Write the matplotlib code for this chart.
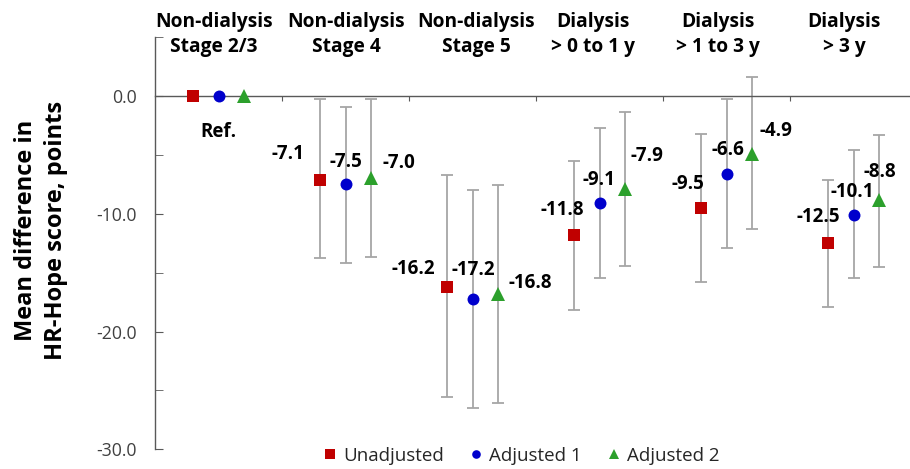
import matplotlib
matplotlib.use("Agg")
import matplotlib.pyplot as plt
from matplotlib.ticker import FixedLocator
import numpy as np

plt.rcParams['font.family'] = ['Open Sans', 'DejaVu Sans']

categories = ["Non-dialysis\nStage 2/3", "Non-dialysis\nStage 4", "Non-dialysis\nStage 5",
              "Dialysis\n> 0 to 1 y", "Dialysis\n> 1 to 3 y", "Dialysis\n> 3 y"]
series = ["Unadjusted", "Adjusted 1", "Adjusted 2"]

unadj = [0.0, -7.1, -16.2, -11.8, -9.5, -12.5]
unadj_lo = [0.0, -13.8, -25.6, -18.2, -15.8, -17.9]
unadj_hi = [0.0, -0.3, -6.7, -5.5, -3.2, -7.1]

adj1 = [0.0, -7.5, -17.2, -9.1, -6.6, -10.1]
adj1_lo = [0.0, -14.2, -26.5, -15.5, -12.9, -15.5]
adj1_hi = [0.0, -0.9, -8.0, -2.7, -0.3, -4.6]

adj2 = [0.0, -7.0, -16.8, -7.9, -4.9, -8.8]
adj2_lo = [0.0, -13.7, -26.1, -14.4, -11.3, -14.5]
adj2_hi = [0.0, -0.3, -7.6, -1.4, 1.6, -3.3]

# styling
colors = ["#C00000", "#0000CC", "#2CA02C"]
markers = ["s", "o", "^"]
msizes = [9.2, 8.6, 9.6]
x_offsets = [-0.2, 0.0, 0.2]
# label offsets in pixels (dx, dy up) per series per group
lab_off = [
    [None, (-32, 26), (-34, 18), (-12, 25), (-13, 24), (-10, 26)],
    [None, (0, 22), (1, 29), (-1, 23), (1, 24), (-1, 23)],
    [None, (28, 15), (32, 11), (22, 33), (24, 23), (1, 28)],
]
cat_dx = [-0.035, 0.008, 0.03, -0.05, -0.067, -0.075]

W, H = 910, 469
fig = plt.figure(figsize=(W / 100, H / 100), dpi=100)
ax_left = 155 / W
ax_bottom = (H - 449.3) / H
ax_top = (H - 37) / H
ax = fig.add_axes([ax_left, ax_bottom, 1 - ax_left, ax_top - ax_bottom])
ax.set_xlim(0, (W - 155) / 127)
ax.set_ylim(-30, 5)

data = [(unadj, unadj_lo, unadj_hi), (adj1, adj1_lo, adj1_hi), (adj2, adj2_lo, adj2_hi)]
xc = np.arange(len(categories)) + 0.5
handles = []
for si, (vals, lo, hi) in enumerate(data):
    vals = np.array(vals); lo = np.array(lo); hi = np.array(hi)
    xs = xc + x_offsets[si]
    ax.errorbar(xs[1:], vals[1:], yerr=[vals[1:] - lo[1:], hi[1:] - vals[1:]],
                fmt='none', ecolor="#A6A6A6", elinewidth=1.3, capsize=4, capthick=1.3, zorder=2)
    ax.plot(xs, vals, linestyle='none', marker=markers[si], markersize=msizes[si],
            color=colors[si], markeredgewidth=0, zorder=3)
    h, = ax.plot([], [], linestyle='none', marker=markers[si], markersize=msizes[si] * 0.72,
                 color=colors[si], markeredgewidth=0, label=series[si])
    handles.append(h)
    for gi in range(1, len(categories)):
        dx, dy = lab_off[si][gi]
        ax.annotate(f"{vals[gi]:.1f}", (xs[gi], vals[gi]), xytext=(dx * 0.72, dy * 0.72),
                    textcoords='offset points', ha='center', va='center',
                    fontsize=13.5, fontweight='bold', color='black', zorder=4)

ax.text(xc[0], -3.05, "Ref.", ha='center', va='center', fontsize=13.5, fontweight='bold')

# category labels at top
for i, c in enumerate(categories):
    ax.text(xc[i] + cat_dx[i], 1.006, c, transform=ax.get_xaxis_transform(),
            ha='center', va='center', fontsize=13.8, fontweight='bold', linespacing=1.35)

# spines and ticks
for s in ['top', 'right']:
    ax.spines[s].set_visible(False)
ax.spines['bottom'].set_position(('data', 0))
ax.spines['bottom'].set_color('#595959')
ax.spines['left'].set_color('#595959')
ax.spines['bottom'].set_linewidth(1.0)
ax.spines['left'].set_linewidth(1.0)
ax.xaxis.set_major_locator(FixedLocator(np.arange(1, 6)))
ax.tick_params(axis='x', direction='out', length=3.5, color='#595959', labelbottom=False)
ax.yaxis.set_minor_locator(FixedLocator([5, -5, -15, -25]))
ax.set_yticks([0, -10, -20, -30])
ax.set_yticklabels(["0.0", "-10.0", "-20.0", "-30.0"])
ax.tick_params(axis='y', which='both', direction='in', length=6, color='#595959',
               labelsize=12.7, labelcolor='#404040', pad=13)

fig.text(41 / W, (H - 230) / H, "Mean difference in\nHR-Hope score, points", rotation=90,
         ha='center', va='center', fontsize=17, fontweight='bold', linespacing=1.35,
         multialignment='center')

fig.legend(handles=handles, loc='center', bbox_to_anchor=(521 / W, (H - 456) / H), ncol=3,
           frameon=False, fontsize=13.5, handlelength=0.8, handletextpad=0.3,
           columnspacing=1.3, labelcolor='#262626')

fig.savefig("out.png", dpi=100)
